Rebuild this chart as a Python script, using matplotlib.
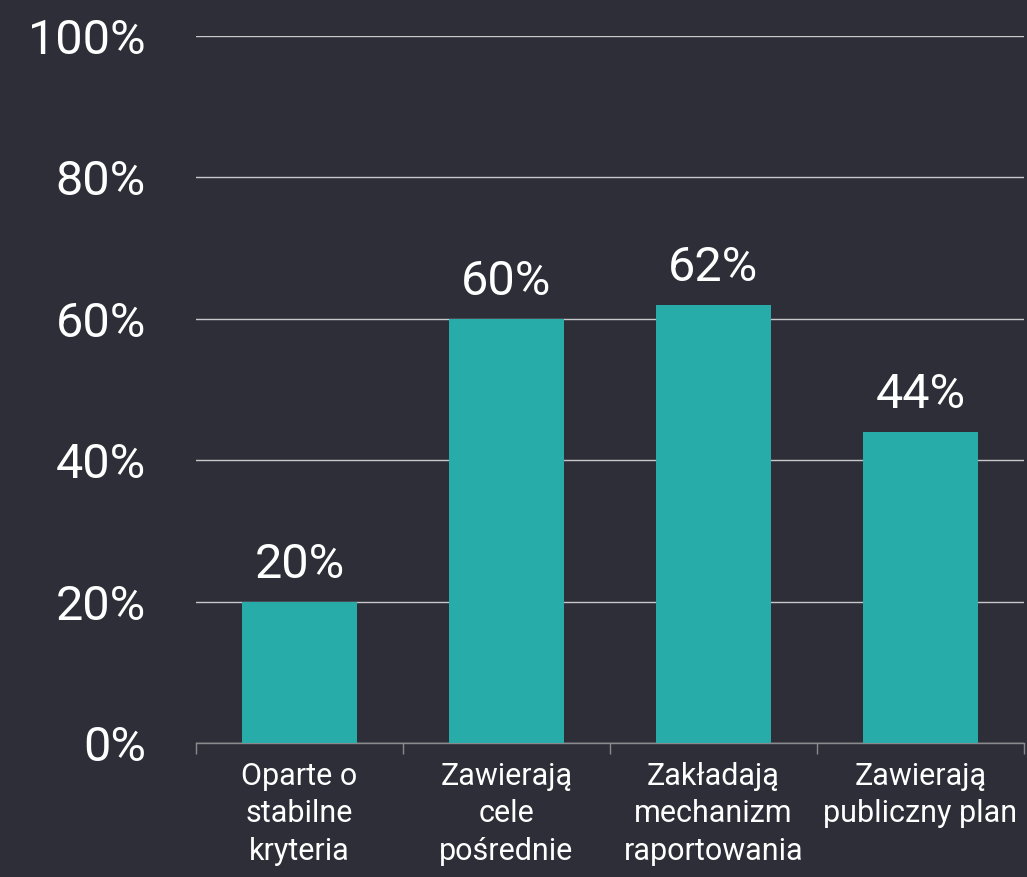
import numpy as np
import matplotlib
matplotlib.use("Agg")
import matplotlib.pyplot as plt

# --- Data ---
categories = ["Oparte o\nstabilne\nkryteria",
              "Zawierają\ncele\npośrednie",
              "Zakładają\nmechanizm\nraportowania",
              "Zawierają\npubliczny plan"]
values = [20, 60, 62, 44]
yticks = [0, 20, 40, 60, 80, 100]

# --- Style ---
bg = "#2e2e38"
bar_color = "#27aca9"
plt.rcParams['font.family'] = ['Roboto', 'DejaVu Sans']

fig = plt.figure(figsize=(10.27, 8.77), dpi=100, facecolor=bg)
ax = fig.add_axes([0.1908, 0.1528, 0.8062, 0.8062])
ax.set_facecolor(bg)

x = np.arange(len(categories))
ax.bar(x, values, width=0.556, color=bar_color, zorder=3)

for xi, v in zip(x, values):
    ax.annotate(f"{v}%", (xi, v), xytext=(0, 10), textcoords="offset points",
                ha="center", va="bottom", color="white", fontsize=35)

ax.set_xlim(-0.5, len(categories) - 0.5)
ax.set_ylim(0, 100)
ax.set_yticks(yticks)
ax.set_yticklabels([f"{t}%" for t in yticks], fontsize=35, color="white")
ax.tick_params(axis="y", length=0, pad=36)

# category labels centred, tick marks at the category boundaries
ax.set_xticks(x)
ax.set_xticklabels(categories, fontsize=22, color="white", linespacing=1.35)
ax.tick_params(axis="x", which="major", length=0, pad=14)
ax.set_xticks(np.arange(-0.5, len(categories)), minor=True)
ax.tick_params(axis="x", which="minor", length=8, width=1, color="#8a8a8e", direction="out")

ax.grid(axis="y", color="#c8c8cc", linewidth=1, zorder=0)
for s in ["top", "right", "left"]:
    ax.spines[s].set_visible(False)
ax.spines["bottom"].set_color("#8a8a8e")
ax.spines["bottom"].set_linewidth(1)

fig.savefig("out.png", facecolor=bg)
